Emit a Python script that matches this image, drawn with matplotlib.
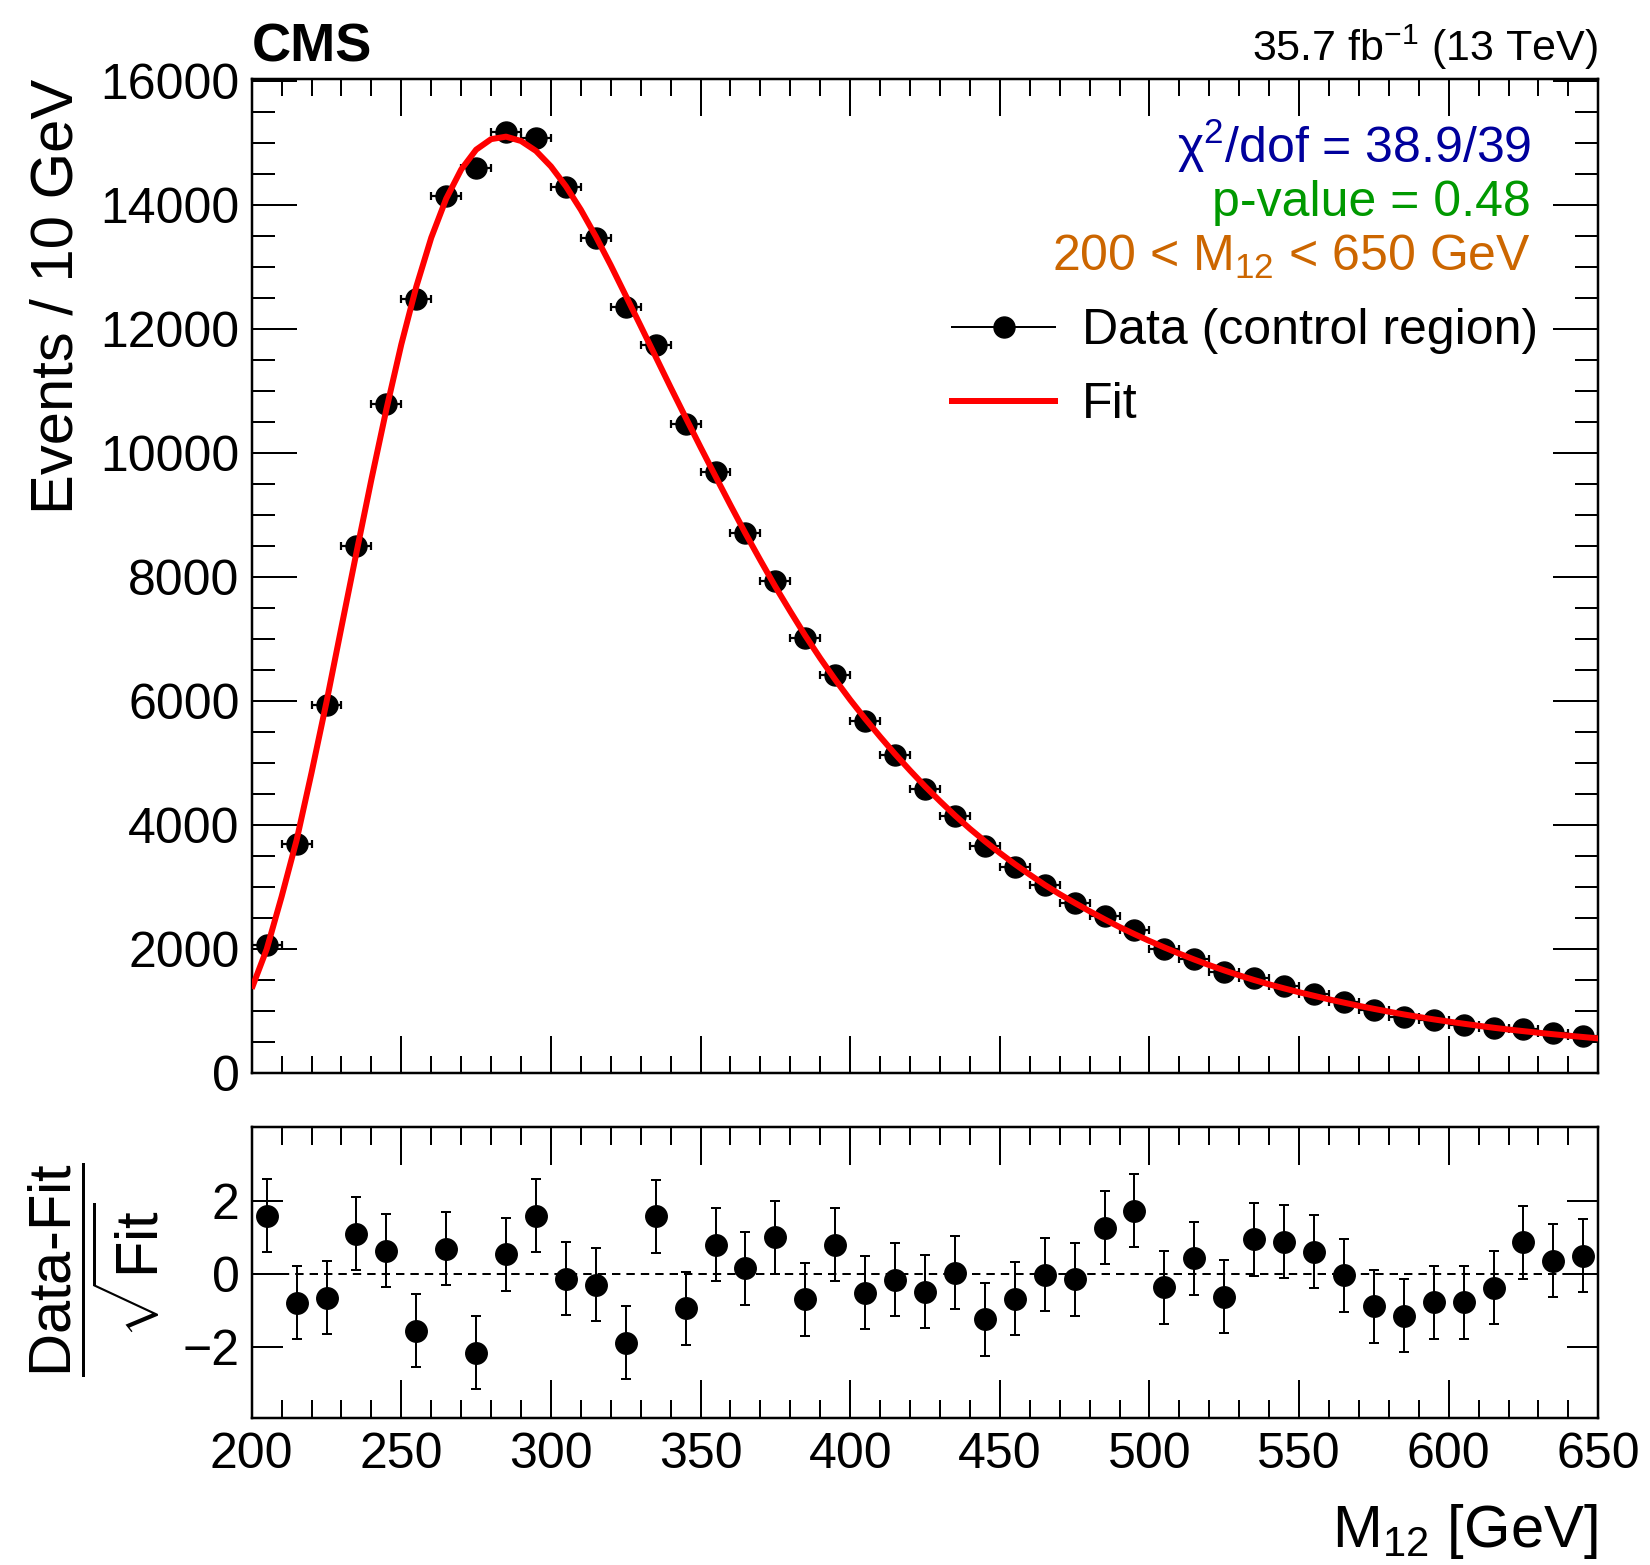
import matplotlib
matplotlib.use('Agg')
import matplotlib.pyplot as plt
from matplotlib.ticker import MultipleLocator
from matplotlib.lines import Line2D

plt.rcParams['font.family'] = ['Liberation Sans', 'DejaVu Sans']
plt.rcParams['mathtext.fontset'] = 'custom'
plt.rcParams['mathtext.rm'] = 'Liberation Sans'
plt.rcParams['mathtext.it'] = 'Liberation Sans:italic'
plt.rcParams['mathtext.bf'] = 'Liberation Sans:bold'
plt.rcParams['mathtext.sf'] = 'Liberation Sans'

# ---------------- data ----------------
bin_centers = [205, 215, 225, 235, 245, 255, 265, 275, 285, 295,
               305, 315, 325, 335, 345, 355, 365, 375, 385, 395,
               405, 415, 425, 435, 445, 455, 465, 475, 485, 495,
               505, 515, 525, 535, 545, 555, 565, 575, 585, 595,
               605, 615, 625, 635, 645]
bin_half_width = 5

data_counts = [2064, 3703, 5935, 8505, 10790, 12494, 14150, 14607, 15182, 15085,
               14295, 13468, 12360, 11747, 10478, 9699, 8712, 7940, 7016, 6424,
               5682, 5134, 4585, 4155, 3666, 3333, 3037, 2742, 2543, 2312,
               2000, 1844, 1628, 1542, 1414, 1274, 1145, 1021, 914, 860,
               779, 736, 715, 645, 602]

fit_mass = [200, 205, 210, 215, 220, 225, 230, 235, 240, 245,
            250, 255, 260, 265, 270, 275, 280, 285, 290, 295,
            300, 305, 310, 315, 320, 325, 330, 335, 340, 345,
            350, 355, 360, 365, 370, 375, 380, 385, 390, 395,
            400, 405, 410, 415, 420, 425, 430, 435, 440, 445,
            450, 455, 460, 465, 470, 475, 480, 485, 490, 495,
            500, 505, 510, 515, 520, 525, 530, 535, 540, 545,
            550, 555, 560, 565, 570, 575, 580, 585, 590, 595,
            600, 605, 610, 615, 620, 625, 630, 635, 640, 645, 650]
fit_values = [1365, 2000, 2850, 3760, 4850, 5990, 7200, 8400, 9580, 10710,
              11760, 12690, 13480, 14110, 14580, 14900, 15070, 15110, 15040, 14880,
              14630, 14310, 13930, 13500, 13035, 12545, 12055, 11560, 11065, 10580,
              10100, 9630, 9165, 8710, 8275, 7850, 7450, 7060, 6695, 6350,
              6025, 5720, 5430, 5150, 4885, 4630, 4390, 4160, 3945, 3745,
              3555, 3375, 3205, 3040, 2890, 2750, 2615, 2485, 2360, 2245,
              2135, 2030, 1930, 1835, 1745, 1660, 1580, 1505, 1435, 1370,
              1308, 1250, 1193, 1140, 1088, 1040, 994, 950, 909, 870,
              834, 800, 767, 735, 706, 680, 654, 630, 607, 585, 563]

residuals = [1.59, -0.80, -0.66, 1.10, 0.63, -1.56, 0.68, -2.16, 0.53, 1.59,
             -0.14, -0.30, -1.89, 1.57, -0.94, 0.79, 0.15, 1.00, -0.70, 0.80,
             -0.52, -0.16, -0.49, 0.03, -1.25, -0.68, -0.03, -0.15, 1.26, 1.72,
             -0.37, 0.42, -0.63, 0.95, 0.88, 0.60, -0.04, -0.89, -1.15, -0.78,
             -0.78, -0.38, 0.86, 0.36, 0.49]
residual_errors = [1.0, 1.0, 1.0, 1.0, 1.0, 1.0, 1.0, 1.0, 1.0, 1.0,
                   1.0, 1.0, 1.0, 1.0, 1.0, 1.0, 1.0, 1.0, 1.0, 1.0,
                   1.0, 1.0, 1.0, 1.0, 1.0, 1.0, 1.0, 1.0, 1.0, 1.0,
                   1.0, 1.0, 1.0, 1.0, 1.0, 1.0, 1.0, 1.0, 1.0, 1.0,
                   1.0, 1.0, 1.0, 1.0, 1.0]

x_major_ticks = [200, 250, 300, 350, 400, 450, 500, 550, 600, 650]
y_major_ticks = [0, 2000, 4000, 6000, 8000, 10000, 12000, 14000, 16000]
res_ticks = [-2, 0, 2]

# ---------------- figure ----------------
W, H = 1650, 1565
fig = plt.figure(figsize=(W / 100, H / 100), dpi=100)

def fx(px):
    return px / W

def fy(py):
    return 1 - py / H

left, right = 251.7, 1598.3
ax = fig.add_axes([fx(left), fy(1073.3), (right - left) / W, (1073.3 - 78.7) / H])
ax2 = fig.add_axes([fx(left), fy(1418.3), (right - left) / W, (1418.3 - 1127.3) / H])

pt = 72 / 100  # points per pixel

# main panel
ax.errorbar(bin_centers, data_counts, xerr=bin_half_width, fmt='o', color='black',
            ms=21 * pt, elinewidth=2.2 * pt, capsize=4 * pt, capthick=2.2 * pt, zorder=3)
ax.plot(fit_mass, fit_values, color='#ff0000', lw=6 * pt, zorder=5, solid_capstyle='butt')
ax.set_xlim(200, 650)
ax.set_ylim(0, 16045)

# ratio panel
ax2.axhline(0, color='black', lw=2 * pt, ls=(0, (4.2, 3.0)), zorder=1)
ax2.errorbar(bin_centers, residuals, yerr=residual_errors, fmt='o', color='black',
             ms=21.5 * pt, elinewidth=2 * pt, capsize=5 * pt, capthick=2 * pt, zorder=3)
ax2.set_xlim(200, 650)
ax2.set_ylim(-3.96, 4.01)

for a in (ax, ax2):
    for s in a.spines.values():
        s.set_linewidth(2.5 * pt)
    a.set_xticks(x_major_ticks)
    a.xaxis.set_minor_locator(MultipleLocator(10))
    a.tick_params(which='both', direction='in', top=True, right=True,
                  width=2 * pt, labelsize=36)

ax.set_yticks(y_major_ticks)
ax.yaxis.set_minor_locator(MultipleLocator(500))
ax.tick_params(axis='x', which='major', length=37 * pt, labelbottom=False)
ax.tick_params(axis='x', which='minor', length=17 * pt)
ax.tick_params(axis='y', which='major', length=45 * pt, pad=12 * pt)
ax.tick_params(axis='y', which='minor', length=23 * pt)

ax2.set_yticks(res_ticks)
ax2.set_yticklabels(['\u22122', '0', '2'])
ax2.tick_params(axis='x', which='major', length=38 * pt, pad=14 * pt)
ax2.tick_params(axis='x', which='minor', length=18 * pt)
ax2.tick_params(axis='y', which='major', length=31 * pt, pad=12 * pt)
ax2.tick_params(axis='y', which='minor', left=False, right=False)

# legend
handles = [Line2D([], [], color='black', marker='o', ms=21 * pt, lw=2 * pt),
           Line2D([], [], color='#ff0000', lw=6 * pt)]
ax.legend(handles, ['Data (control region)', 'Fit'], loc='upper left',
          bbox_to_anchor=(fx(952), fy(308)), bbox_transform=fig.transFigure,
          frameon=False, fontsize=36, handlelength=2.06, handletextpad=0.54,
          labelspacing=0.56, borderpad=0, borderaxespad=0)

# texts
fig.text(fx(252), fy(62), 'CMS', fontsize=39, fontweight='bold', ha='left', va='baseline')
fig.text(fx(1598), fy(61), r'35.7 fb$^{-1}$ (13 TeV)', fontsize=31, ha='right', va='baseline')
fig.text(fx(1531), fy(163), '\u03c7$^{2}$/dof = 38.9/39', fontsize=36, ha='right',
         va='baseline', color='#00009c')
fig.text(fx(1531), fy(216), 'p-value = 0.48', fontsize=36, ha='right', va='baseline',
         color='#009900')
fig.text(fx(1531), fy(271), r'200 < M$_{12}$ < 650 GeV', fontsize=36, ha='right',
         va='baseline', color='#cc6600')

fig.text(fx(57), fy(79), 'Events / 10 GeV', fontsize=43, rotation=90, ha='center', va='top')
fig.text(fx(94), fy(1270), r'$\dfrac{\mathrm{Data\text{-}Fit}}{\sqrt{\mathrm{Fit}}}$',
         fontsize=43, rotation=90, ha='center', va='center')
fig.text(fx(1598), fy(1547), r'M$_{12}$ [GeV]', fontsize=43, ha='right', va='baseline')

fig.savefig('out.png', dpi=100)
